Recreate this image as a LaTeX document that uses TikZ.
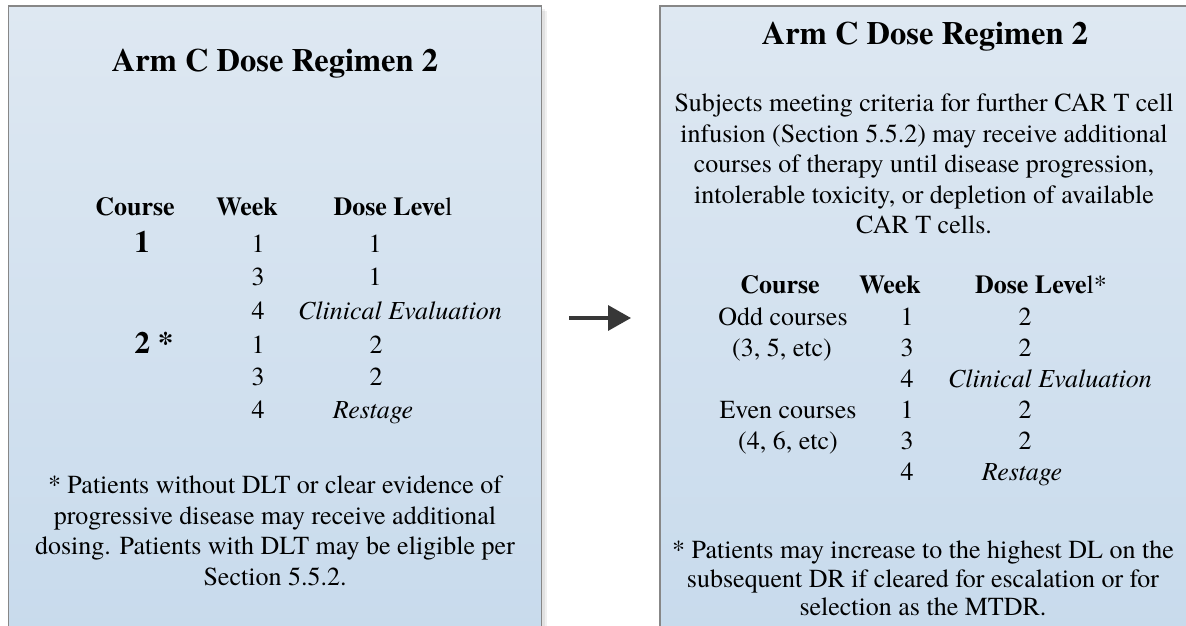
\documentclass[tikz,border=0pt]{standalone}
\usepackage{fontspec}
\setmainfont{texgyretermes}[Extension=.otf,UprightFont=*-regular,BoldFont=*-bold,ItalicFont=*-italic,BoldItalicFont=*-bolditalic]
\usetikzlibrary{arrows.meta}
\definecolor{paneltop}{RGB}{222,232,242}
\definecolor{panelbottom}{RGB}{199,218,236}
\definecolor{boxline}{RGB}{135,135,135}
\definecolor{arrowcol}{RGB}{55,55,55}
\begin{document}
\begin{tikzpicture}[x=1pt,y=-1pt,
  panel/.style={draw=boxline, line width=1.3pt, top color=paneltop, bottom color=panelbottom},
  panelshadow/.style={fill=black, opacity=0.06, draw=none},
  ttl/.style={font=\fontsize{32.5}{38}\selectfont\bfseries, inner sep=0pt, anchor=base},
  cell/.style={font=\fontsize{26}{31}\selectfont, inner sep=0pt, anchor=base},
  head/.style={cell, font=\fontsize{26}{31}\selectfont\bfseries},
  bignum/.style={font=\fontsize{31}{36}\selectfont\bfseries, inner sep=0pt, anchor=base},
  para/.style={font=\fontsize{26}{#1}\selectfont, inner sep=0pt, align=center, anchor=north},
  para/.default=30.5,
  flow/.style={line width=3.5pt, draw=arrowcol, -{Triangle[length=23pt,width=25pt]}}
]
\clip (0,0) rectangle (1186,626);
\fill[white] (0,0) rectangle (1186,626);

% drop shadows behind the two panels
\fill[panelshadow] (11,9) rectangle (545,660);
\fill[panelshadow] (13,11) rectangle (547,660);

% panels
\path[panel] (8.5,6) rectangle (541.5,660);
\path[panel] (660,6) rectangle (1200,660);

% ---------- left panel ----------
\node[ttl] (ltitle) at (275,71) {Arm C Dose Regimen 2};

\node[head] (lhcourse) at (135,215) {Course};
\node[head] (lhweek)   at (247,215) {Week};
\node[head] (lhdose)   at (393,215) {\textbf{Dose Leve}\mdseries l};

\node[bignum] (lc1) at (142,252) {1};
\node[bignum] (lc2) at (154,353) {2 *};

\node[cell] (lw1) at (258,252)   {1};
\node[cell] (lw2) at (258,285.5) {3};
\node[cell] (lw3) at (258,319)   {4};
\node[cell] (lw4) at (258,353)   {1};
\node[cell] (lw5) at (258,385.5) {3};
\node[cell] (lw6) at (258,418)   {4};

\node[cell] (ld1) at (375,252)   {1};
\node[cell] (ld2) at (375,285.5) {1};
\node[cell] (ld3) at (400,319)   {\itshape Clinical Evaluation};
\node[cell] (ld4) at (376,353)   {2};
\node[cell] (ld5) at (376,385.5) {2};
\node[cell] (ld6) at (373,418)   {\itshape Restage};

\node[para] (lnote) at (275,476) {* Patients without DLT or clear evidence of\\
  progressive disease may receive additional\\
  dosing. Patients with DLT may be eligible per\\
  Section 5.5.2.};

% ---------- arrow between panels ----------
\coordinate (arrowtail) at (569,318);
\coordinate (arrowtip)  at (631,318);
\draw[flow] (arrowtail) -- (arrowtip);

% ---------- right panel ----------
\node[ttl] (rtitle) at (925,45) {Arm C Dose Regimen 2};

\node[para] (rintro) at (924,94) {Subjects meeting criteria for further CAR T cell\\
  infusion (Section 5.5.2) may receive additional\\
  courses of therapy until disease progression,\\
  intolerable toxicity, or depletion of available\\
  CAR T cells.};

\node[head] (rhcourse) at (780,293)  {Course};
\node[head] (rhweek)   at (890,293)  {Week};
\node[head] (rhdose)   at (1041,293) {\textbf{Dose Leve}\mdseries l*};

\node[cell] (rc1) at (783,325)     {Odd courses};
\node[cell] (rc2) at (782,356)     {(3, 5, etc)};
\node[cell] (rc4) at (788,418.5)   {Even courses};
\node[cell] (rc5) at (788,449.5)   {(4, 6, etc)};

\node[cell] (rw1) at (907,325)     {1};
\node[cell] (rw2) at (907,356)     {3};
\node[cell] (rw3) at (907,387.5)   {4};
\node[cell] (rw4) at (907,418.5)   {1};
\node[cell] (rw5) at (907,449.5)   {3};
\node[cell] (rw6) at (907,480.5)   {4};

\node[cell] (rd1) at (1025,325)    {2};
\node[cell] (rd2) at (1025,356)    {2};
\node[cell] (rd3) at (1050,387.5)  {\itshape Clinical Evaluation};
\node[cell] (rd4) at (1025,418.5)  {2};
\node[cell] (rd5) at (1025,449.5)  {2};
\node[cell] (rd6) at (1022,480.5)  {\itshape Restage};

\node[para=28.5] (rnote) at (923,541) {* Patients may increase to the highest DL on the\\
  subsequent DR if cleared for escalation or for\\
  selection as the MTDR.};
\end{tikzpicture}
\end{document}
